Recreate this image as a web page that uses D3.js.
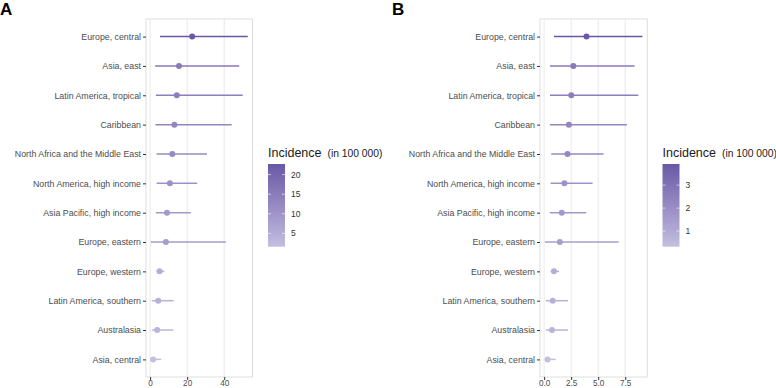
<!DOCTYPE html>
<html>
<head>
<meta charset="utf-8">
<script src="https://cdn.jsdelivr.net/npm/d3@7"></script>
<style>
  body { margin: 0; background: #fff; }
  svg { font-family: "Liberation Sans", Arial, sans-serif; }
</style>
</head>
<body>
<div id="chart"></div>
<script>
const regions = ["Europe, central", "Asia, east", "Latin America, tropical", "Caribbean",
    "North Africa and the Middle East", "North America, high income", "Asia Pacific, high income",
    "Europe, eastern", "Europe, western", "Latin America, southern", "Australasia", "Asia, central"];

// panel A
const incidenceA = [22.7, 15.6, 14.4, 13.1, 12.0, 10.7, 9.1, 8.5, 5.1, 4.4, 3.8, 1.6];
const lowerA = [5.3, 2.7, 3.1, 2.9, 3.5, 3.5, 3.1, 0.4, 3.5, 0.9, 0.9, 0.4];
const upperA = [52.7, 48.1, 50.0, 44.0, 30.7, 25.4, 22.0, 40.9, 7.6, 12.7, 12.5, 6.0];
const ticksA = [0, 20, 40];
const legendTicksA = [5, 10, 15, 20];

// panel B
const incidenceB = [3.92, 2.70, 2.51, 2.29, 2.16, 1.88, 1.63, 1.45, 0.91, 0.79, 0.72, 0.32];
const lowerB = [0.91, 0.54, 0.54, 0.54, 0.66, 0.60, 0.54, 0.07, 0.60, 0.16, 0.16, 0.16];
const upperB = [9.09, 8.37, 8.71, 7.65, 5.49, 4.48, 3.89, 6.90, 1.38, 2.20, 2.20, 1.07];
const ticksB = [0, 2.5, 5, 7.5];
const legendTicksB = [1, 2, 3];

const lowColor = "#c3bfe0", highColor = "#6a58a6";
const textGrey = "#4d4d4d";

const svg = d3.select("#chart").append("svg")
    .attr("width", 776)
    .attr("height", 388);

function drawPanel(p) {
    const rows = regions.map((r, i) => ({region: r, est: p.est[i], lo: p.lo[i], hi: p.hi[i]}));

    // expand 5% like ggplot
    const minV = d3.min(rows, d => d.lo), maxV = d3.max(rows, d => d.hi);
    const pad = (maxV - minV) * 0.05;
    const x = d3.scaleLinear()
        .domain([minV - pad, maxV + pad])
        .range([p.left, p.right]);
    const y = d3.scalePoint()
        .domain(regions)
        .range([19, 377])
        .padding(0.6);
    const color = d3.scaleLinear()
        .domain(d3.extent(rows, d => d.est))
        .range([lowColor, highColor])
        .interpolate(d3.interpolateLab);

    const g = svg.append("g");

    // grid
    g.selectAll("line.grid")
        .data(p.ticks)
        .enter()
        .append("line")
        .attr("x1", d => x(d)).attr("x2", d => x(d))
        .attr("y1", 19).attr("y2", 377)
        .attr("stroke", "#e3e3e3")
        .attr("stroke-width", 0.8);

    g.append("rect")
        .attr("x", p.left).attr("y", 19)
        .attr("width", p.right - p.left).attr("height", 358)
        .attr("fill", "none")
        .attr("stroke", "#d6d6d6")
        .attr("stroke-width", 0.8);

    // axes
    const xAxis = g.append("g")
        .attr("transform", "translate(0,377)")
        .call(d3.axisBottom(x).tickValues(p.ticks).tickFormat(p.fmt).tickSize(3).tickPadding(0.5));
    const yAxis = g.append("g")
        .attr("transform", "translate(" + p.left + ",0)")
        .call(d3.axisLeft(y).tickSize(3).tickPadding(2));
    [xAxis, yAxis].forEach(a => {
        a.select(".domain").remove();
        a.selectAll(".tick line").attr("stroke", "#333").attr("stroke-width", 1);
        a.selectAll("text").attr("fill", textGrey).style("font-size", "8.8px");
    });
    xAxis.selectAll("text").style("font-size", "8.2px");

    // intervals
    g.selectAll("line.ci")
        .data(rows)
        .enter()
        .append("line")
        .attr("x1", d => x(d.lo)).attr("x2", d => x(d.hi))
        .attr("y1", d => y(d.region)).attr("y2", d => y(d.region))
        .attr("stroke", d => color(d.est))
        .attr("stroke-width", 1.5);

    g.selectAll("circle")
        .data(rows)
        .enter()
        .append("circle")
        .attr("cx", d => x(d.est))
        .attr("cy", d => y(d.region))
        .attr("r", 3)
        .attr("fill", d => color(d.est));

    // panel tag
    svg.append("text")
        .attr("x", p.tagX).attr("y", 15)
        .style("font-size", "17px")
        .style("font-weight", "bold")
        .text(p.tag);

    // colourbar legend
    const lg = svg.append("g");
    const title = lg.append("text")
        .attr("x", p.legX).attr("y", 157)
        .attr("fill", "#1a1a1a");
    title.append("tspan").style("font-size", "12.5px").text("Incidence");
    title.append("tspan").style("font-size", "10.3px").attr("dx", 6).text("(in 100 000)");

    const ly = d3.scaleLinear()
        .domain(color.domain())
        .range([246.7, 164]);
    const gradId = "grad" + p.tag;
    const grad = svg.append("defs").append("linearGradient")
        .attr("id", gradId)
        .attr("x1", 0).attr("y1", 1).attr("x2", 0).attr("y2", 0);
    d3.range(0, 1.01, 0.1).forEach(t => {
        grad.append("stop")
            .attr("offset", t)
            .attr("stop-color", color(color.domain()[0] + t * (color.domain()[1] - color.domain()[0])));
    });
    lg.append("rect")
        .attr("x", p.legX).attr("y", ly.range()[1])
        .attr("width", 17).attr("height", ly.range()[0] - ly.range()[1])
        .attr("fill", "url(#" + gradId + ")");
    lg.selectAll("line.lt")
        .data(p.legTicks)
        .enter()
        .append("line")
        .attr("x1", p.legX).attr("x2", p.legX + 3)
        .attr("y1", d => ly(d)).attr("y2", d => ly(d))
        .attr("stroke", "#fff").attr("stroke-width", 0.6);
    lg.selectAll("line.rt")
        .data(p.legTicks)
        .enter()
        .append("line")
        .attr("x1", p.legX + 14).attr("x2", p.legX + 17)
        .attr("y1", d => ly(d)).attr("y2", d => ly(d))
        .attr("stroke", "#fff").attr("stroke-width", 0.6);
    lg.selectAll("text.lab")
        .data(p.legTicks)
        .enter()
        .append("text")
        .attr("x", p.legX + 23)
        .attr("y", d => ly(d))
        .attr("dy", "0.35em")
        .attr("fill", "#333")
        .style("font-size", "8.5px")
        .text(d => d);
}

drawPanel({tag: "A", tagX: 0, left: 146, right: 252.6, est: incidenceA, lo: lowerA, hi: upperA,
    ticks: ticksA, fmt: d3.format("d"), legX: 268, legTicks: legendTicksA});
drawPanel({tag: "B", tagX: 392, left: 540, right: 647.3, est: incidenceB, lo: lowerB, hi: upperB,
    ticks: ticksB, fmt: d3.format(".1f"), legX: 662.5, legTicks: legendTicksB});
</script>
</body>
</html>
